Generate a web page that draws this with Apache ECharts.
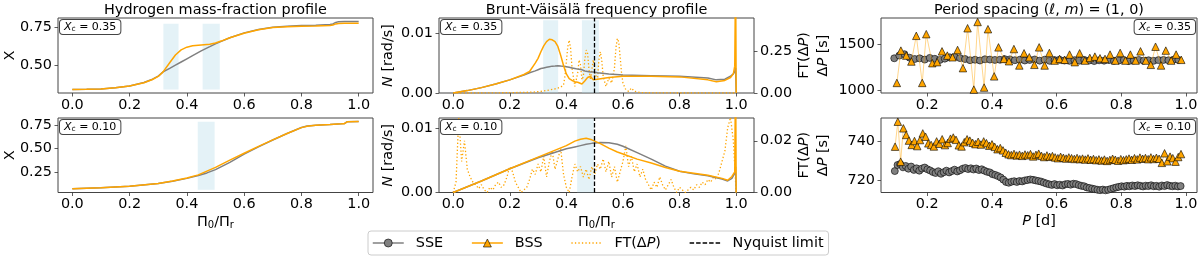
<!DOCTYPE html>
<html><head><meta charset="utf-8">
<script src="https://cdn.jsdelivr.net/npm/echarts@6/dist/echarts.min.js"></script>
<style>html,body{margin:0;padding:0;background:#fff}#c{width:1200px;height:261px}</style>
</head><body><div id="c"></div>
<script>
// ---------------- DATA ----------------
const profileTicksX = [0, 0.2, 0.4, 0.6, 0.8, 1.0];
const periodTicksX = [0.2, 0.4, 0.6, 0.8, 1.0];
const hydroTicksTop = [0.50, 0.75];
const hydroTicksBottom = [0.25, 0.50, 0.75];
const nTicks = [0, 0.01];
const ftTicksTop = [0, 0.25];
const ftTicksBottom = [0, 0.02];
const dpTicksTop = [1000, 1500];
const dpTicksBottom = [720, 740];
const xcLabels = ['0.35', '0.10'];
const nyquistLimit = 0.5;
const bandsTop = [[0.318, 0.371], [0.455, 0.515]];
const bandsBottom = [[0.438, 0.497]];

// Hydrogen profile, Xc = 0.35
const hydroGrid35 = [0, 0.05, 0.1, 0.15, 0.2, 0.25, 0.28, 0.3, 0.317, 0.34, 0.36, 0.38, 0.4, 0.42, 0.45, 0.48, 0.5, 0.52, 0.55, 0.6, 0.65, 0.7, 0.75, 0.8, 0.85, 0.9, 0.91, 0.92, 0.93, 0.95, 1.0];
const hydroSSE35 = [0.339, 0.340, 0.343, 0.350, 0.362, 0.385, 0.407, 0.427, 0.455, 0.478, 0.499, 0.520, 0.541, 0.562, 0.593, 0.621, 0.640, 0.656, 0.680, 0.712, 0.734, 0.749, 0.756, 0.760, 0.763, 0.767, 0.771, 0.781, 0.786, 0.787, 0.787];
const hydroBSS35 = [0.339, 0.340, 0.343, 0.350, 0.362, 0.384, 0.405, 0.425, 0.455, 0.515, 0.566, 0.600, 0.618, 0.627, 0.632, 0.637, 0.645, 0.658, 0.680, 0.710, 0.733, 0.748, 0.753, 0.755, 0.757, 0.760, 0.764, 0.771, 0.774, 0.775, 0.775];
// Hydrogen profile, Xc = 0.10
const hydroGrid10 = [0, 0.1, 0.2, 0.3, 0.35, 0.4, 0.44, 0.47, 0.5, 0.55, 0.6, 0.65, 0.7, 0.75, 0.8, 0.82, 0.85, 0.9, 0.94, 0.95, 0.96, 1.0];
const hydroSSE10 = [0.075, 0.085, 0.102, 0.130, 0.155, 0.185, 0.215, 0.243, 0.278, 0.355, 0.442, 0.520, 0.592, 0.662, 0.725, 0.740, 0.750, 0.758, 0.765, 0.767, 0.787, 0.790];
const hydroBSS10 = [0.075, 0.085, 0.102, 0.130, 0.156, 0.188, 0.222, 0.262, 0.302, 0.378, 0.452, 0.525, 0.594, 0.662, 0.724, 0.739, 0.749, 0.757, 0.764, 0.766, 0.786, 0.789];

// Brunt-Vaisala, Xc = 0.35
const nGrid35 = [0, 0.05, 0.1, 0.15, 0.2, 0.25, 0.27, 0.29, 0.3, 0.31, 0.32, 0.33, 0.34, 0.35, 0.36, 0.37, 0.38, 0.39, 0.4, 0.41, 0.42, 0.43, 0.44, 0.455, 0.465, 0.475, 0.485, 0.495, 0.51, 0.55, 0.6, 0.7, 0.8, 0.9, 0.93, 0.96, 0.98, 0.99, 0.995, 0.998, 1.0];
const nSSE35 = [0, 0.0004, 0.0009, 0.0015, 0.0022, 0.0030, 0.0034, 0.0037, 0.0039, 0.0041, 0.0042, 0.0043, 0.0044, 0.0045, 0.00452, 0.00455, 0.00452, 0.0045, 0.0044, 0.0043, 0.0042, 0.0041, 0.0040, 0.0039, 0.0037, 0.0036, 0.0035, 0.0035, 0.0034, 0.0032, 0.0030, 0.0029, 0.0028, 0.0025, 0.0022, 0.0023, 0.0028, 0.0032, 0.0036, 0.0042, 0];
const nBSS35 = [0, 0.0004, 0.0009, 0.0015, 0.0022, 0.0031, 0.0036, 0.0050, 0.0058, 0.0069, 0.0079, 0.0086, 0.0090, 0.0089, 0.0086, 0.0078, 0.0063, 0.0046, 0.0032, 0.0024, 0.0021, 0.0019, 0.0018, 0.0015, 0.0020, 0.0026, 0.0028, 0.0022, 0.0023, 0.0026, 0.0028, 0.0028, 0.0027, 0.0022, 0.0019, 0.0021, 0.0026, 0.0032, 0.0045, 0.0200, 0];
const ftGrid35 = [0, 0.1, 0.2, 0.28, 0.3, 0.32, 0.34, 0.36, 0.37, 0.38, 0.39, 0.395, 0.40, 0.405, 0.41, 0.415, 0.42, 0.43, 0.44, 0.445, 0.45, 0.455, 0.46, 0.465, 0.47, 0.475, 0.48, 0.485, 0.49, 0.495, 0.50, 0.505, 0.51, 0.515, 0.52, 0.525, 0.53, 0.54, 0.55, 0.56, 0.57, 0.575, 0.58, 0.585, 0.59, 0.595, 0.60, 0.61, 0.62, 0.63, 0.64, 0.66, 0.7, 0.8, 0.9, 1.0];
const ft35 = [0, 0, 0.002, 0.005, 0.008, 0.012, 0.018, 0.025, 0.03, 0.035, 0.05, 0.1, 0.19, 0.28, 0.32, 0.27, 0.15, 0.04, 0.12, 0.2, 0.17, 0.08, 0.1, 0.2, 0.26, 0.24, 0.14, 0.08, 0.14, 0.2, 0.19, 0.1, 0.08, 0.2, 0.25, 0.2, 0.1, 0.04, 0.09, 0.06, 0.15, 0.27, 0.33, 0.31, 0.22, 0.12, 0.06, 0.02, 0.01, 0.03, 0.01, 0.003, 0.001, 0, 0, 0];

// Brunt-Vaisala, Xc = 0.10
const nGrid10 = [0, 0.1, 0.2, 0.3, 0.35, 0.4, 0.43, 0.45, 0.47, 0.49, 0.5, 0.52, 0.55, 0.58, 0.6, 0.65, 0.7, 0.75, 0.8, 0.85, 0.9, 0.95, 0.97, 0.985, 0.995, 0.998, 1.0];
const nSSE10 = [0, 0.0018, 0.0037, 0.0054, 0.0061, 0.0068, 0.0071, 0.0073, 0.0075, 0.00765, 0.0077, 0.0078, 0.00775, 0.0075, 0.0072, 0.0062, 0.0052, 0.0041, 0.0033, 0.0029, 0.0026, 0.0021, 0.0018, 0.0022, 0.0030, 0.0040, 0];
const nBSS10 = [0, 0.0018, 0.0037, 0.0055, 0.0064, 0.0073, 0.0080, 0.0083, 0.00845, 0.0082, 0.0080, 0.0076, 0.0069, 0.0063, 0.0060, 0.0052, 0.0046, 0.0039, 0.0033, 0.0030, 0.0027, 0.0022, 0.0019, 0.0025, 0.0032, 0.0200, 0];
const ftGrid10 = [0.00,0.01,0.02,0.03,0.04,0.05,0.06,0.07,0.08,0.09,0.10,0.11,0.12,0.13,0.14,0.15,0.16,0.17,0.18,0.19,0.20,0.21,0.22,0.23,0.24,0.25,0.26,0.27,0.28,0.29,0.30,0.31,0.32,0.33,0.34,0.35,0.36,0.37,0.38,0.39,0.40,0.41,0.42,0.43,0.44,0.45,0.46,0.47,0.48,0.49,0.50,0.51,0.52,0.53,0.54,0.55,0.56,0.57,0.58,0.59,0.60,0.61,0.62,0.63,0.64,0.65,0.66,0.67,0.68,0.69,0.70,0.71,0.72,0.73,0.74,0.75,0.76,0.77,0.78,0.79,0.80,0.81,0.82,0.83,0.84,0.85,0.86,0.87,0.88,0.89,0.90,0.91,0.92,0.93,0.94,0.95,0.96,0.97,0.98,0.99,1.00];
const ft10 = [0.000,0.004,0.029,0.012,0.020,0.009,0.006,0.004,0.003,0.0015,
 0.003,0.001,0.000,0.002,0.001,0.003,0.004,0.002,0.003,0.006,
 0.010,0.008,0.004,0.002,0.000,0.001,0.002,0.005,0.009,0.007,
 0.011,0.008,0.014,0.006,0.012,0.016,0.009,0.013,0.017,0.007,
 0.002,0.000,0.006,0.011,0.008,0.010,0.006,0.009,0.005,0.010,
 0.007,0.011,0.009,0.013,0.008,0.012,0.006,0.010,0.004,0.008,
 0.012,0.018,0.010,0.014,0.008,0.011,0.006,0.009,0.005,0.003,
 0.001,0.004,0.002,0.006,0.003,0.001,0.003,0.005,0.002,0.000,
 0.002,0.001,0.000,0.001,0.002,0.001,0.003,0.002,0.004,0.003,
 0.005,0.004,0.006,0.005,0.008,0.012,0.016,0.025,0.029,0.020,
 0.000];

// Period spacing (first period in days, then period spacings in s)
const pStartSSE35 = 0.098, pStartBSS35 = 0.106, pStartSSE10 = 0.0997, pStartBSS10 = 0.1005;
const dpSSE35 = [1346,1375,1390,1352,1338,1345,1332,1350,1340,1328,1342,1356,1360,1348,1338,1325,1330,1322,1335,1332,1328,1330,1336,1334,1325,1330,1322,1328,1333,1320,1330,1318,1326,1330,1322,1318,1325,1320,1328,1322,1316,1324,1320,1326,1318,1322,1326,1316,1322,1328,1320,1324,1318,1326,1328,1324,1330,1328];
const dpBSS35 = [1079,1429,1375,1311,1589,1079,1607,1293,1304,1421,1375,1357,1436,1239,1671,1007,1739,1029,1661,1150,1464,1339,1314,1446,1268,1400,1357,1275,1464,1268,1404,1321,1339,1329,1386,1304,1400,1321,1350,1364,1346,1339,1386,1321,1404,1321,1386,1321,1421,1321,1275,1471,1268,1429,1321,1386,1329];
const dpSSE10 = [724.6,727.7,728.2,726.5,727.2,725.8,726.9,725.2,726.0,724.8,725.9,726.4,725.5,
 724.9,724.1,723.6,724.5,723.2,724.0,724.8,723.9,724.6,725.3,724.4,725.0,
 725.8,726.2,725.6,726.0,725.4,725.9,725.1,725.5,
 724.8,724.2,723.9,723.0,722.6,722.0,721.3,720.2,719.0,
 718.6,719.1,719.4,719.0,719.5,719.3,719.8,720.0,720.3,720.1,719.8,719.5,719.2,718.7,
 718.2,717.8,717.5,717.9,717.3,717.6,717.2,717.8,718.0,717.6,718.1,717.9,717.4,
 717.0,716.8,716.2,715.9,715.6,715.3,715.0,714.8,715.1,714.7,715.0,715.4,715.8,716.2,716.5,716.8,
 716.6,717.0,716.8,717.2,716.9,717.3,717.0,716.7,717.1,716.9,717.3,716.8,717.0,716.6,717.2,716.9,717.4,717.0,716.8,717.1,716.7,716.9];
const dpBSS10 = [737.1,749.9,729.4,746.5,743.1,740.2,738.0,740.0,737.4,740.5,743.9,742.2,
 738.8,738.0,737.2,739.8,738.6,740.9,737.9,739.0,741.2,741.8,740.6,737.8,
 737.2,739.4,740.9,740.2,739.1,738.4,739.6,738.2,739.8,738.9,737.6,738.3,
 737.0,735.8,736.4,735.2,734.0,733.2,732.8,733.4,732.6,733.0,732.4,733.1,
 732.7,733.3,732.1,732.9,733.5,732.4,731.8,732.6,731.9,732.3,731.6,731.2,731.9,731.4,731.0,731.6,731.2,730.8,
 731.3,730.7,731.0,730.5,731.1,730.4,730.8,730.2,730.6,730.0,730.5,729.8,730.3,730.9,730.4,729.9,730.7,730.2,730.6,731.0,
 730.4,731.2,730.6,731.5,730.9,731.3,730.7,731.6,730.8,731.4,730.9,728.8,733.7,729.6,732.0,731.2,729.4,731.8,733.3];

// ---------------- HELPERS ----------------
const FONT = 'DejaVu Sans';
const FS = 14.4;
const GREY = '#808080', ORANGE = '#FFA500', FRAME = '#444';
const zip = (xs, ys) => xs.map((x, i) => [x, ys[i]]);
// period of mode n+1 = period of mode n + spacing of mode n
function periods(start, dp) { const p = [start]; for (let i = 1; i < dp.length; i++) p.push(p[i - 1] + dp[i - 1] / 86400); return p; }

const rich = {
  i: {fontStyle: 'italic', fontFamily: FONT, fontSize: FS, color: '#000'},
  n: {fontFamily: FONT, fontSize: FS, color: '#000'},
  s: {fontFamily: FONT, fontSize: 10, color: '#000', verticalAlign: 'bottom', padding: [6, 0, 0, 0]}
};
const tick = {show: true, length: 3.5, lineStyle: {color: '#333', width: 0.8}};
function axis(kind, gridIndex, min, max, ticks, dec, extra) {
  return Object.assign({
    type: 'value', gridIndex, min, max,
    axisLine: {show: false, onZero: false},
    splitLine: {show: false},
    axisTick: Object.assign({customValues: ticks}, tick),
    axisLabel: {customValues: ticks, formatter: v => (+v).toFixed(dec), color: '#000', fontSize: FS, fontFamily: FONT, margin: kind === 'x' ? 5 : 6},
    nameLocation: 'middle', nameMoveOverlap: false,
    nameTextStyle: {color: '#000', fontSize: FS, fontFamily: FONT, rich}
  }, extra || {});
}

const grids = [
  {left: 58, top: 18, width: 315, height: 75},
  {left: 58, top: 118, width: 315, height: 74.5},
  {left: 439, top: 18, width: 315, height: 75},
  {left: 439, top: 118, width: 315, height: 74.5},
  {left: 881, top: 18, width: 316, height: 75},
  {left: 881, top: 118, width: 316, height: 74.5}
].map(g => Object.assign({show: true, borderColor: FRAME, borderWidth: 1, backgroundColor: 'rgba(0,0,0,0)', containLabel: false, outerBoundsMode: 'none'}, g));

const piName = '{n|Π}{s|0}{n|/Π}{s|r}';
const xAxes = [
  axis('x', 0, -0.05, 1.05, profileTicksX, 1),
  axis('x', 1, -0.05, 1.05, profileTicksX, 1, {name: piName, nameGap: 22}),
  axis('x', 2, -0.05, 1.063, profileTicksX, 1),
  axis('x', 3, -0.05, 1.063, profileTicksX, 1, {name: piName, nameGap: 22}),
  axis('x', 4, 0.057, 1.034, periodTicksX, 1),
  axis('x', 5, 0.057, 1.034, periodTicksX, 1, {name: '{i|P} [d]', nameGap: 22})
];
const yAxes = [
  axis('y', 0, 0.316, 0.81, hydroTicksTop, 2, {name: 'X', nameGap: 41, nameRotate: 90}),
  axis('y', 1, 0.035, 0.826, hydroTicksBottom, 2, {name: 'X', nameGap: 41, nameRotate: 90}),
  axis('y', 2, 0, 0.01256, nTicks, 2, {name: '{i|N} [rad/s]', nameGap: 44, nameRotate: 90}),
  axis('y', 2, 0, 0.454, ftTicksTop, 2, {position: 'right', name: 'FT(Δ{i|P})', nameGap: 43, nameRotate: 90}),
  axis('y', 3, 0, 0.0116, nTicks, 2, {name: '{i|N} [rad/s]', nameGap: 44, nameRotate: 90}),
  axis('y', 3, 0, 0.0288, ftTicksBottom, 2, {position: 'right', name: 'FT(Δ{i|P})', nameGap: 43, nameRotate: 90}),
  axis('y', 4, 970, 1782, dpTicksTop, 0),
  axis('y', 5, 713.6, 751.8, dpTicksBottom, 0)
];

const bandStyle = {color: 'rgba(173,216,230,0.33)'};
function bands(list, lo, hi) {
  return {silent: true, itemStyle: bandStyle, data: list.map(b => [{xAxis: b[0], yAxis: lo}, {xAxis: b[1], yAxis: hi}])};
}
function profLine(name, color, xi, yi, data, extra) {
  return Object.assign({name, type: 'line', xAxisIndex: xi, yAxisIndex: yi, data, symbol: 'none', showSymbol: false,
    lineStyle: {color, width: 1.5}, itemStyle: {color}, z: 3}, extra || {});
}
function ftLine(xi, yi, data) {
  return {name: 'FT(ΔP)', type: 'line', xAxisIndex: xi, yAxisIndex: yi, data, symbol: 'none', showSymbol: false,
    lineStyle: {color: ORANGE, width: 1.3, type: [1.3, 2.2]}, itemStyle: {color: ORANGE}, z: 2};
}
function nyq(xi, yi) {
  return {name: 'Nyquist limit', type: 'line', xAxisIndex: xi, yAxisIndex: yi, data: [], symbol: 'none',
    lineStyle: {color: '#000', width: 1.3, type: [4.5, 2]}, itemStyle: {color: '#000'},
    markLine: {silent: true, symbol: ['none', 'none'], label: {show: false}, animation: false,
      lineStyle: {color: '#000', width: 1.3, type: [4.5, 2]}, data: [{xAxis: nyquistLimit}]}, z: 4};
}
function psSSE(xi, yi, p, dp) {
  return {name: 'SSE', type: 'line', xAxisIndex: xi, yAxisIndex: yi, data: zip(p, dp), symbol: 'circle', symbolSize: 7,
    showSymbol: true, showAllSymbol: true, itemStyle: {color: GREY, borderColor: '#000', borderWidth: 0.6},
    lineStyle: {color: GREY, width: 1, opacity: 0.5}, z: 3};
}
function psBSS(xi, yi, p, dp) {
  return {name: 'BSS', type: 'line', xAxisIndex: xi, yAxisIndex: yi, data: zip(p, dp), symbol: 'triangle', symbolSize: 7.5,
    showSymbol: true, showAllSymbol: true, itemStyle: {color: ORANGE, borderColor: '#000', borderWidth: 0.6},
    lineStyle: {color: ORANGE, width: 1, opacity: 0.45}, z: 4};
}

const series = [
  psSSE(4, 6, periods(pStartSSE35, dpSSE35), dpSSE35),
  psBSS(4, 6, periods(pStartBSS35, dpBSS35), dpBSS35),
  psSSE(5, 7, periods(pStartSSE10, dpSSE10), dpSSE10),
  psBSS(5, 7, periods(pStartBSS10, dpBSS10), dpBSS10),
  ftLine(2, 3, zip(ftGrid35, ft35)),
  ftLine(3, 5, zip(ftGrid10, ft10)),
  nyq(2, 2), nyq(3, 4),
  profLine('SSE', GREY, 0, 0, zip(hydroGrid35, hydroSSE35), {markArea: bands(bandsTop, 0.339, 0.772)}),
  profLine('BSS', ORANGE, 0, 0, zip(hydroGrid35, hydroBSS35)),
  profLine('SSE', GREY, 1, 1, zip(hydroGrid10, hydroSSE10), {markArea: bands(bandsBottom, 0.065, 0.785)}),
  profLine('BSS', ORANGE, 1, 1, zip(hydroGrid10, hydroBSS10)),
  profLine('SSE', GREY, 2, 2, zip(nGrid35, nSSE35), {markArea: bands(bandsTop, 0, 0.0122)}),
  profLine('BSS', ORANGE, 2, 2, zip(nGrid35, nBSS35)),
  profLine('SSE', GREY, 3, 4, zip(nGrid10, nSSE10), {markArea: bands(bandsBottom, 0, 0.0114)}),
  profLine('BSS', ORANGE, 3, 4, zip(nGrid10, nBSS10))
];

const boxRich = {
  i: {fontStyle: 'italic', fontFamily: FONT, fontSize: 11, fill: '#000'},
  n: {fontFamily: FONT, fontSize: 11, fill: '#000'},
  s: {fontFamily: FONT, fontSize: 7.5, fill: '#000', verticalAlign: 'bottom', padding: [4, 0, 0, 0]}
};
function xcBox(x, y, label, alignRight) {
  return {type: 'text', x, y, z: 50, style: {
    text: '{i|X}{s|c}{n| = ' + label + '}', rich: boxRich,
    align: alignRight ? 'right' : 'left', textAlign: alignRight ? 'right' : 'left',
    verticalAlign: 'top', textVerticalAlign: 'top',
    backgroundColor: '#fff', borderColor: FRAME, borderWidth: 1, borderRadius: 3, padding: [1, 4, 1, 4]
  }};
}
const gRich = {i: {fontStyle: 'italic', fontFamily: FONT, fontSize: FS, fill: '#000'}, n: {fontFamily: FONT, fontSize: FS, fill: '#000'}};
function titleText(x, text) {
  return {type: 'text', x, y: 10, style: {text, rich: gRich,
    font: FS + 'px "' + FONT + '"', fill: '#000', align: 'center', textAlign: 'center', verticalAlign: 'middle', textVerticalAlign: 'middle'}};
}
function yName(x, y, text) {
  return {type: 'text', x, y, rotation: Math.PI / 2, style: {text, rich: gRich,
    font: FS + 'px "' + FONT + '"', fill: '#000', align: 'center', textAlign: 'center', verticalAlign: 'middle', textVerticalAlign: 'middle'}};
}
const noMarker = {color: 'rgba(0,0,0,0)', borderColor: 'rgba(0,0,0,0)', borderWidth: 0, opacity: 0};

const option = {
  animation: false,
  backgroundColor: '#fff',
  textStyle: {fontFamily: FONT},
  grid: grids,
  xAxis: xAxes,
  yAxis: yAxes,
  series,
  legend: {
    show: true, left: 368, top: 231, orient: 'horizontal', padding: [5, 5, 5, 4],
    itemGap: 28, itemWidth: 31, itemHeight: 10, selectedMode: false,
    borderColor: '#ccc', borderWidth: 1, borderRadius: 3, backgroundColor: '#fff',
    textStyle: {color: '#000', fontSize: FS, fontFamily: FONT, padding: [0, 0, 0, 7],
      rich: {i: {fontStyle: 'italic', fontSize: FS, fontFamily: FONT, color: '#000'}}},
    formatter: n => n === 'FT(ΔP)' ? 'FT(Δ{i|P})' : n,
    data: [
      {name: 'SSE', itemStyle: {color: GREY, borderColor: '#000', borderWidth: 0.6}, lineStyle: {color: GREY, width: 1.5, opacity: 1}},
      {name: 'BSS', itemStyle: {color: ORANGE, borderColor: '#000', borderWidth: 0.6}, lineStyle: {color: ORANGE, width: 1.5, opacity: 1}},
      {name: 'FT(ΔP)', itemStyle: noMarker, lineStyle: {color: ORANGE, width: 1.3, type: [1.3, 2.2]}},
      {name: 'Nyquist limit', itemStyle: noMarker, lineStyle: {color: '#000', width: 1.3, type: [4.5, 2]}}
    ]
  },
  graphic: [
    titleText(215.5, '{n|Hydrogen mass-fraction profile}'),
    titleText(596.5, '{n|Brunt-Väisälä frequency profile}'),
    titleText(1039, '{n|Period spacing (}{i|ℓ}{n|, }{i|m}{n|) = (1, 0)}'),
    yName(823, 55.5, '{n|Δ}{i|P}{n| [s]}'),
    yName(823, 155.25, '{n|Δ}{i|P}{n| [s]}'),
    xcBox(60, 20, xcLabels[0], false),
    xcBox(60, 120, xcLabels[1], false),
    xcBox(441, 20, xcLabels[0], false),
    xcBox(441, 120, xcLabels[1], false),
    xcBox(1195, 20, xcLabels[0], true),
    xcBox(1195, 120, xcLabels[1], true)
  ]
};
const chart = echarts.init(document.getElementById('c'));
chart.setOption(option);
</script></body></html>
